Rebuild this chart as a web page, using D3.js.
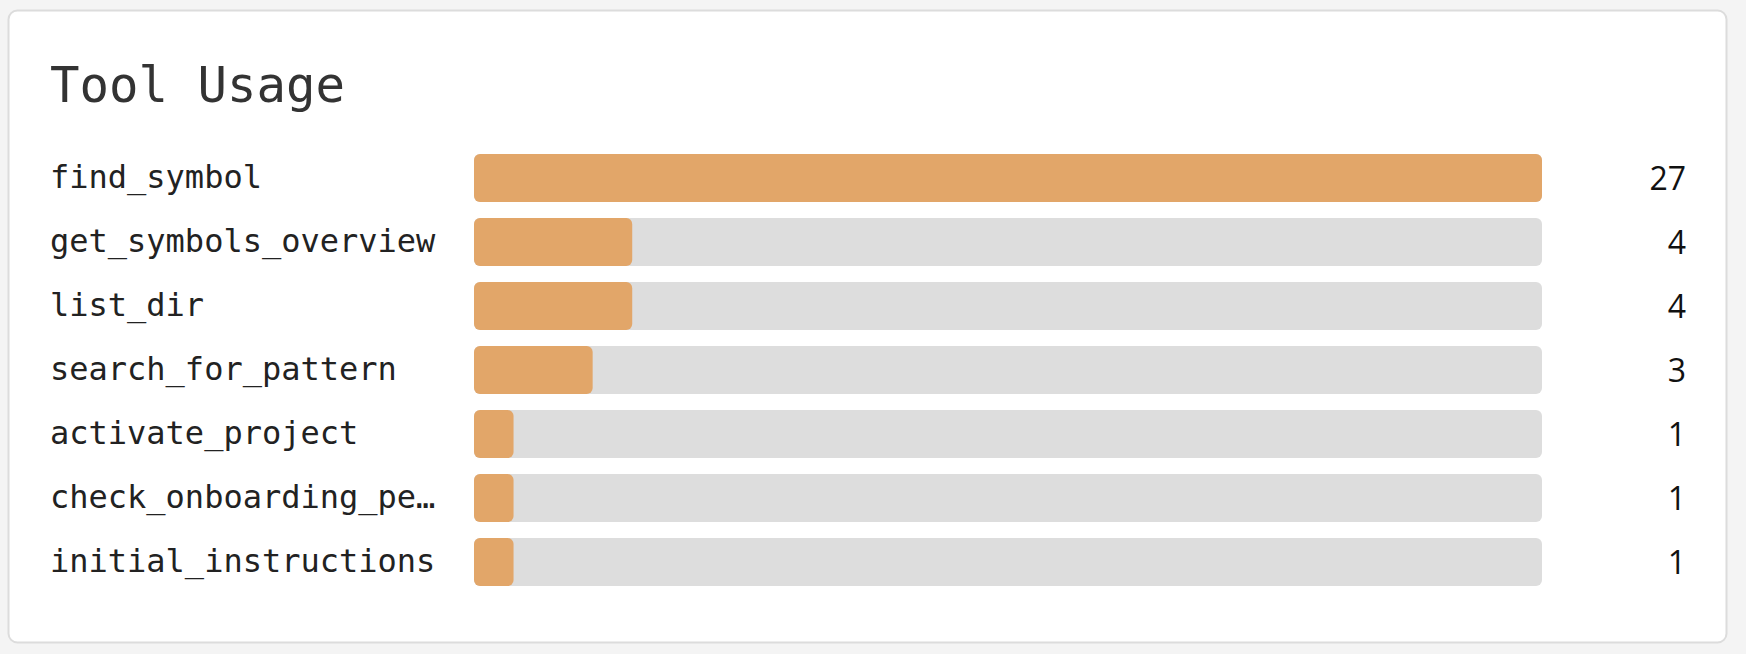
<!DOCTYPE html>
<html>
<head>
<meta charset="utf-8">
<script src="https://cdn.jsdelivr.net/npm/d3@7"></script>
<style>
  html, body { margin: 0; padding: 0; background: #f4f4f4; }
  svg { display: block; }
</style>
</head>
<body>
<svg id="chart" width="1746" height="654"></svg>
<script>
    "use strict";

    var tools = ["find_symbol", "get_symbols_overview", "list_dir", "search_for_pattern",
        "activate_project", "check_onboarding_performed", "initial_instructions"];
    var counts = [27, 4, 4, 3, 1, 1, 1];

    var svg = d3.select("#chart");
    var font = "'DejaVu Sans Mono', monospace";

    // card
    svg.append("rect")
        .attr("x", 8.5).attr("y", 10.5)
        .attr("width", 1718).attr("height", 632)
        .attr("rx", 9)
        .attr("fill", "#fff")
        .attr("stroke", "#dcdcdc")
        .attr("stroke-width", 2);

    svg.append("text")
        .attr("x", 50).attr("y", 102)
        .attr("font-family", font)
        .attr("font-size", 49)
        .attr("fill", "#333")
        .text("Tool Usage");

    var x = d3.scaleLinear()
        .domain([0, d3.max(counts)])
        .range([474, 1542]);

    // step 64px, bar 48px
    var y = d3.scaleBand()
        .domain(tools)
        .range([154, 154 + 64 * tools.length - 16])
        .paddingInner(16 / 64);

    // truncate labels with ellipsis, 20 chars max
    var shorten = function (s) {
        return s.length > 20 ? s.slice(0, 19) + "\u2026" : s;
    };

    var rows = svg.selectAll("g.row")
        .data(tools)
        .enter()
        .append("g")
        .attr("class", "row");

    rows.append("text")
        .attr("x", 50)
        .attr("y", function (d) { return y(d) + y.bandwidth() / 2 + 10; })
        .attr("font-family", font)
        .attr("font-size", 32)
        .attr("fill", "#222")
        .text(shorten);

    rows.append("rect")
        .attr("x", x(0))
        .attr("y", function (d) { return y(d); })
        .attr("width", x.range()[1] - x(0))
        .attr("height", y.bandwidth())
        .attr("rx", 6)
        .attr("fill", "#dddddd");

    rows.append("rect")
        .attr("x", x(0))
        .attr("y", function (d) { return y(d); })
        .attr("width", function (d, i) { return x(counts[i]) - x(0); })
        .attr("height", y.bandwidth())
        .attr("rx", 6)
        .attr("fill", "#e2a669");

    rows.append("text")
        .attr("x", 1686)
        .attr("y", function (d) { return y(d) + y.bandwidth() / 2 + 12; })
        .attr("text-anchor", "end")
        .attr("font-family", "'Open Sans', 'DejaVu Sans', sans-serif")
        .attr("font-size", 32)
        .attr("fill", "#111")
        .text(function (d, i) { return counts[i]; });
</script>
</body>
</html>
